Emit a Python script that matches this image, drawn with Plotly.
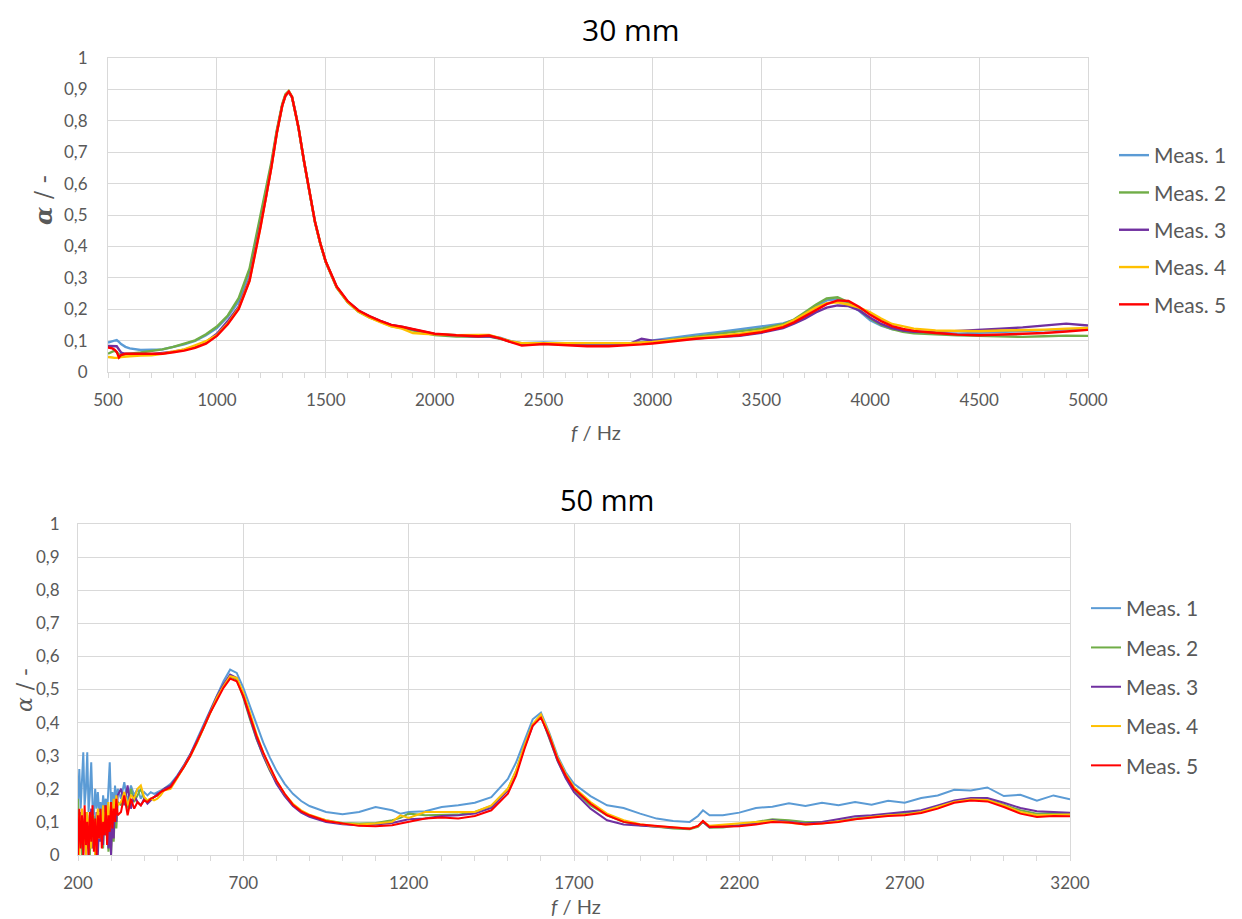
import plotly.graph_objects as go

# ---------------- data: 30 mm ----------------
F30 = [500, 510, 520, 530, 540, 550, 560, 580, 600, 650,
       700, 750, 800, 850, 900, 950, 1000, 1050, 1100, 1150,
       1200, 1225, 1250, 1275, 1300, 1315, 1330, 1345, 1360, 1375,
       1400, 1425, 1450, 1475, 1500, 1550, 1600, 1650, 1700, 1750,
       1800, 1850, 1900, 1950, 2000, 2100, 2200, 2250, 2300, 2350,
       2400, 2500, 2600, 2700, 2800, 2900, 2950, 3000, 3100, 3200,
       3300, 3400, 3500, 3600, 3650, 3700, 3750, 3800, 3850, 3900,
       3950, 4000, 4050, 4100, 4150, 4200, 4300, 4400, 4500, 4600,
       4700, 4800, 4900, 5000]

A30_M1 = [0.094, 0.096, 0.098, 0.100, 0.102, 0.096, 0.089, 0.080, 0.075, 0.070,
          0.070, 0.072, 0.080, 0.088, 0.099, 0.117, 0.140, 0.176, 0.225, 0.320,
          0.490, 0.570, 0.660, 0.765, 0.850, 0.882, 0.892, 0.875, 0.830, 0.776,
          0.670, 0.568, 0.478, 0.408, 0.350, 0.270, 0.224, 0.195, 0.177, 0.162,
          0.149, 0.144, 0.135, 0.127, 0.121, 0.117, 0.113, 0.115, 0.109, 0.098,
          0.092, 0.094, 0.091, 0.089, 0.089, 0.091, 0.096, 0.101, 0.111, 0.119,
          0.127, 0.135, 0.145, 0.155, 0.166, 0.186, 0.209, 0.228, 0.232, 0.217,
          0.194, 0.165, 0.148, 0.137, 0.131, 0.127, 0.123, 0.122, 0.125, 0.128,
          0.130, 0.132, 0.136, 0.138]
A30_M2 = [0.058, 0.062, 0.066, 0.068, 0.063, 0.057, 0.055, 0.056, 0.058, 0.062,
          0.066, 0.072, 0.080, 0.090, 0.101, 0.120, 0.145, 0.180, 0.235, 0.330,
          0.495, 0.575, 0.668, 0.770, 0.853, 0.885, 0.895, 0.877, 0.832, 0.778,
          0.671, 0.569, 0.479, 0.409, 0.350, 0.269, 0.222, 0.192, 0.174, 0.160,
          0.146, 0.140, 0.132, 0.124, 0.118, 0.113, 0.112, 0.113, 0.106, 0.096,
          0.088, 0.090, 0.088, 0.085, 0.086, 0.088, 0.092, 0.096, 0.105, 0.113,
          0.120, 0.128, 0.138, 0.152, 0.167, 0.190, 0.214, 0.234, 0.238, 0.222,
          0.198, 0.170, 0.150, 0.137, 0.128, 0.123, 0.119, 0.117, 0.115, 0.113,
          0.112, 0.114, 0.116, 0.115]
A30_M3 = [0.083, 0.083, 0.084, 0.084, 0.082, 0.072, 0.062, 0.058, 0.057, 0.056,
          0.057, 0.060, 0.065, 0.071, 0.081, 0.096, 0.122, 0.162, 0.208, 0.298,
          0.468, 0.556, 0.655, 0.762, 0.848, 0.880, 0.892, 0.875, 0.830, 0.776,
          0.671, 0.569, 0.479, 0.409, 0.351, 0.271, 0.225, 0.196, 0.177, 0.163,
          0.150, 0.143, 0.135, 0.127, 0.121, 0.116, 0.113, 0.114, 0.107, 0.096,
          0.090, 0.091, 0.089, 0.087, 0.087, 0.091, 0.106, 0.100, 0.102, 0.107,
          0.112, 0.115, 0.125, 0.140, 0.154, 0.170, 0.190, 0.205, 0.212, 0.210,
          0.196, 0.173, 0.153, 0.140, 0.132, 0.128, 0.127, 0.130, 0.135, 0.138,
          0.142, 0.147, 0.154, 0.148]
A30_M4 = [0.048, 0.046, 0.046, 0.045, 0.044, 0.045, 0.048, 0.050, 0.050, 0.052,
          0.053, 0.058, 0.065, 0.072, 0.085, 0.098, 0.118, 0.155, 0.203, 0.292,
          0.462, 0.552, 0.652, 0.761, 0.848, 0.881, 0.893, 0.876, 0.831, 0.777,
          0.671, 0.569, 0.479, 0.409, 0.351, 0.270, 0.223, 0.193, 0.174, 0.159,
          0.145, 0.138, 0.124, 0.122, 0.120, 0.117, 0.118, 0.118, 0.108, 0.097,
          0.092, 0.093, 0.092, 0.092, 0.091, 0.092, 0.094, 0.096, 0.103, 0.110,
          0.116, 0.122, 0.132, 0.148, 0.165, 0.185, 0.205, 0.219, 0.222, 0.215,
          0.205, 0.190, 0.170, 0.153, 0.145, 0.138, 0.132, 0.130, 0.130, 0.132,
          0.133, 0.135, 0.138, 0.140]
A30_M5 = [0.078, 0.077, 0.075, 0.071, 0.064, 0.046, 0.054, 0.058, 0.058, 0.057,
          0.056, 0.058, 0.063, 0.068, 0.077, 0.090, 0.115, 0.152, 0.200, 0.290,
          0.460, 0.550, 0.650, 0.760, 0.848, 0.880, 0.893, 0.876, 0.832, 0.778,
          0.672, 0.570, 0.480, 0.410, 0.352, 0.272, 0.226, 0.196, 0.178, 0.163,
          0.150, 0.144, 0.136, 0.128, 0.122, 0.117, 0.114, 0.116, 0.107, 0.095,
          0.084, 0.089, 0.086, 0.082, 0.082, 0.085, 0.088, 0.091, 0.099, 0.106,
          0.111, 0.117, 0.127, 0.143, 0.158, 0.178, 0.198, 0.216, 0.228, 0.226,
          0.207, 0.182, 0.162, 0.146, 0.137, 0.131, 0.124, 0.119, 0.117, 0.119,
          0.121, 0.124, 0.129, 0.134]

# ---------------- data: 50 mm ----------------
F50 = [200, 204, 208, 212, 216, 220, 224, 228, 232, 236,
       240, 244, 248, 252, 256, 260, 264, 268, 272, 276,
       280, 284, 288, 292, 296, 300, 304, 308, 312, 316, 320,
       330, 340, 350, 360, 370, 380, 390, 400, 410, 420, 430, 440, 450, 460,
       480, 500, 520, 540, 560, 580, 600, 620, 640, 660,
       680, 700, 720, 740, 760, 780, 800, 825, 850, 875,
       900, 950, 1000, 1050, 1100, 1150, 1175, 1200, 1250, 1300,
       1350, 1400, 1450, 1500, 1525, 1550, 1575, 1600, 1625, 1650,
       1675, 1700, 1750, 1800, 1850, 1900, 1950, 2000, 2050, 2075,
       2090, 2110, 2150, 2200, 2250, 2300, 2350, 2400, 2450, 2500,
       2550, 2600, 2650, 2700, 2750, 2800, 2850, 2900, 2950, 3000,
       3050, 3100, 3150, 3200]

A50_M1 = [0.16, 0.26, 0.14, 0.22, 0.31, 0.15, 0.20, 0.31, 0.13, 0.19,
          0.28, 0.15, 0.12, 0.20, 0.14, 0.19, 0.13, 0.16, 0.12, 0.18,
          0.14, 0.17, 0.13, 0.20, 0.28, 0.15, 0.19, 0.14, 0.21, 0.16, 0.20,
          0.17, 0.22, 0.16, 0.21, 0.18, 0.20, 0.17, 0.19, 0.18, 0.19, 0.185, 0.19, 0.195, 0.20,
          0.215, 0.240, 0.270, 0.305, 0.350, 0.395, 0.440, 0.485, 0.525, 0.560,
          0.550, 0.505, 0.450, 0.390, 0.340, 0.295, 0.255, 0.215, 0.185, 0.163,
          0.148, 0.130, 0.123, 0.130, 0.145, 0.135, 0.125, 0.130, 0.132, 0.145,
          0.150, 0.158, 0.175, 0.230, 0.280, 0.345, 0.410, 0.430, 0.370, 0.300,
          0.250, 0.215, 0.178, 0.150, 0.142, 0.125, 0.110, 0.103, 0.100, 0.118,
          0.135, 0.120, 0.120, 0.128, 0.142, 0.146, 0.156, 0.148, 0.158, 0.150,
          0.160, 0.152, 0.164, 0.158, 0.172, 0.180, 0.197, 0.195, 0.204, 0.178,
          0.182, 0.164, 0.180, 0.168]
A50_M2 = [0.17, 0.05, 0.12, 0.00, 0.10, 0.03, 0.13, 0.02, 0.08, 0.00,
          0.11, 0.04, 0.12, 0.00, 0.09, 0.03, 0.12, 0.05, 0.10, 0.02,
          0.13, 0.06, 0.11, 0.01, 0.09, 0.00, 0.10, 0.04, 0.14, 0.08, 0.16,
          0.15, 0.19, 0.14, 0.20, 0.16, 0.18, 0.20, 0.17, 0.165, 0.17, 0.175, 0.18, 0.19, 0.20,
          0.210, 0.235, 0.265, 0.300, 0.340, 0.385, 0.435, 0.475, 0.510, 0.540,
          0.530, 0.475, 0.410, 0.350, 0.300, 0.255, 0.220, 0.180, 0.150, 0.130,
          0.118, 0.105, 0.097, 0.095, 0.097, 0.105, 0.112, 0.125, 0.120, 0.120,
          0.122, 0.130, 0.148, 0.200, 0.255, 0.330, 0.395, 0.420, 0.355, 0.285,
          0.235, 0.195, 0.150, 0.120, 0.100, 0.090, 0.085, 0.080, 0.078, 0.085,
          0.100, 0.082, 0.083, 0.090, 0.100, 0.108, 0.105, 0.100, 0.100, 0.103,
          0.110, 0.115, 0.120, 0.125, 0.132, 0.145, 0.162, 0.170, 0.168, 0.152,
          0.135, 0.125, 0.127, 0.125]
A50_M3 = [0.10, 0.02, 0.13, 0.05, 0.00, 0.11, 0.03, 0.12, 0.00, 0.08,
          0.14, 0.02, 0.10, 0.05, 0.13, 0.00, 0.09, 0.04, 0.12, 0.03,
          0.15, 0.06, 0.10, 0.02, 0.08, 0.00, 0.12, 0.05, 0.16, 0.10, 0.18,
          0.20, 0.15, 0.21, 0.14, 0.18, 0.16, 0.15, 0.17, 0.155, 0.165, 0.175, 0.185, 0.19, 0.20,
          0.210, 0.238, 0.270, 0.305, 0.345, 0.390, 0.440, 0.480, 0.515, 0.545,
          0.535, 0.480, 0.415, 0.352, 0.300, 0.255, 0.215, 0.178, 0.148, 0.128,
          0.115, 0.100, 0.093, 0.090, 0.092, 0.097, 0.103, 0.108, 0.110, 0.118,
          0.120, 0.125, 0.142, 0.195, 0.250, 0.325, 0.390, 0.420, 0.355, 0.285,
          0.232, 0.190, 0.140, 0.105, 0.092, 0.088, 0.085, 0.082, 0.080, 0.087,
          0.100, 0.084, 0.086, 0.090, 0.097, 0.105, 0.100, 0.095, 0.100, 0.108,
          0.117, 0.120, 0.125, 0.128, 0.135, 0.150, 0.165, 0.172, 0.172, 0.158,
          0.142, 0.132, 0.130, 0.128]
A50_M4 = [0.12, 0.00, 0.09, 0.14, 0.03, 0.10, 0.00, 0.13, 0.06, 0.11,
          0.02, 0.12, 0.08, 0.00, 0.10, 0.14, 0.05, 0.12, 0.09, 0.15,
          0.07, 0.13, 0.11, 0.16, 0.08, 0.14, 0.12, 0.17, 0.13, 0.18, 0.15,
          0.16, 0.19, 0.15, 0.18, 0.17, 0.20, 0.21, 0.175, 0.165, 0.17, 0.165, 0.17, 0.18, 0.195,
          0.200, 0.232, 0.265, 0.300, 0.340, 0.385, 0.432, 0.475, 0.510, 0.540,
          0.535, 0.490, 0.430, 0.365, 0.310, 0.262, 0.225, 0.185, 0.155, 0.135,
          0.122, 0.105, 0.095, 0.092, 0.095, 0.100, 0.120, 0.112, 0.130, 0.130,
          0.128, 0.130, 0.150, 0.200, 0.255, 0.330, 0.395, 0.425, 0.365, 0.295,
          0.245, 0.205, 0.160, 0.125, 0.105, 0.093, 0.087, 0.083, 0.080, 0.087,
          0.102, 0.088, 0.092, 0.095, 0.100, 0.103, 0.097, 0.092, 0.095, 0.102,
          0.110, 0.115, 0.120, 0.122, 0.130, 0.145, 0.160, 0.168, 0.166, 0.150,
          0.130, 0.120, 0.122, 0.122]
A50_M5 = [0.00, 0.14, 0.02, 0.12, 0.00, 0.15, 0.03, 0.10, 0.00, 0.13,
          0.04, 0.15, 0.01, 0.11, 0.00, 0.12, 0.05, 0.14, 0.02, 0.10,
          0.06, 0.15, 0.03, 0.12, 0.07, 0.16, 0.08, 0.14, 0.10, 0.17, 0.12,
          0.13, 0.18, 0.12, 0.17, 0.14, 0.16, 0.15, 0.165, 0.16, 0.17, 0.175, 0.18, 0.19, 0.195,
          0.205, 0.235, 0.265, 0.300, 0.340, 0.385, 0.430, 0.470, 0.505, 0.533,
          0.525, 0.480, 0.420, 0.360, 0.310, 0.265, 0.225, 0.185, 0.152, 0.132,
          0.120, 0.103, 0.095, 0.088, 0.087, 0.090, 0.095, 0.100, 0.110, 0.113,
          0.110, 0.118, 0.135, 0.185, 0.240, 0.320, 0.390, 0.415, 0.360, 0.290,
          0.240, 0.200, 0.155, 0.120, 0.100, 0.092, 0.087, 0.082, 0.079, 0.088,
          0.103, 0.085, 0.085, 0.087, 0.092, 0.100, 0.098, 0.092, 0.095, 0.100,
          0.108, 0.113, 0.118, 0.120, 0.127, 0.140, 0.158, 0.165, 0.162, 0.145,
          0.125, 0.115, 0.118, 0.117]

SERIES_NAMES = ["Meas. 1", "Meas. 2", "Meas. 3", "Meas. 4", "Meas. 5"]
SERIES_COLORS = ["#5B9BD5", "#70AD47", "#7030A0", "#FFC000", "#FF0000"]

X30_TICKS = [500, 1000, 1500, 2000, 2500, 3000, 3500, 4000, 4500, 5000]
X30_LABELS = ["500", "1000", "1500", "2000", "2500", "3000", "3500", "4000", "4500", "5000"]
X50_TICKS = [200, 700, 1200, 1700, 2200, 2700, 3200]
X50_LABELS = ["200", "700", "1200", "1700", "2200", "2700", "3200"]
Y_TICKS = [0, 0.1, 0.2, 0.3, 0.4, 0.5, 0.6, 0.7, 0.8, 0.9, 1]
Y_LABELS = ["0", "0,1", "0,2", "0,3", "0,4", "0,5", "0,6", "0,7", "0,8", "0,9", "1"]

TOP_TITLE = "30 mm"
BOTTOM_TITLE = "50 mm"

# ---------------- figure ----------------
W, H = 1242, 919
OFF = 8  # page body margin of the browser
FONT = "Lato"
GREY = "#595959"
GRID = "#d9d9d9"

fig = go.Figure()

top_data = [A30_M1, A30_M2, A30_M3, A30_M4, A30_M5]
bot_data = [A50_M1, A50_M2, A50_M3, A50_M4, A50_M5]

for i, (name, col, ys) in enumerate(zip(SERIES_NAMES, SERIES_COLORS, top_data)):
    fig.add_trace(go.Scatter(x=F30, y=ys, mode="lines", name=name,
                             line=dict(color=col, width=2.4),
                             xaxis="x", yaxis="y", legend="legend",
                             legendgroup="t%d" % i))
for i, (name, col, ys) in enumerate(zip(SERIES_NAMES, SERIES_COLORS, bot_data)):
    fig.add_trace(go.Scatter(x=F50, y=ys, mode="lines", name=name,
                             line=dict(color=col, width=2),
                             xaxis="x2", yaxis="y2", legend="legend2",
                             legendgroup="b%d" % i))

def px_x(p):
    return (p - OFF) / W

def px_y(p):
    return 1 - (p - OFF) / H

tickfont = dict(family=FONT, size=17, color=GREY)

def xaxis(domain, anchor, rng, tv, tt):
    return dict(domain=domain, anchor=anchor, range=rng, automargin=False,
                tickmode="array", tickvals=tv, ticktext=tt,
                showgrid=True, gridcolor=GRID, gridwidth=1,
                showline=True, linecolor=GRID, linewidth=1, mirror=True,
                ticks="outside", ticklen=5, tickcolor=GRID,
                minor=dict(tickmode="linear", tick0=0, dtick=100,
                           ticks="outside", ticklen=5, tickcolor=GRID,
                           showgrid=False),
                tickfont=tickfont, ticklabelstandoff=8, zeroline=False,
                fixedrange=True)

def yaxis(domain, anchor, standoff):
    return dict(domain=domain, anchor=anchor, range=[0, 1], automargin=False,
                tickmode="array", tickvals=Y_TICKS, ticktext=Y_LABELS,
                showgrid=True, gridcolor=GRID, gridwidth=1,
                showline=True, linecolor=GRID, linewidth=1, mirror=True,
                ticks="", tickfont=tickfont, ticklabelstandoff=standoff,
                zeroline=False, fixedrange=True)

legfont = dict(family=FONT, size=21, color=GREY)

fig.update_layout(
    width=W, height=H,
    margin=dict(l=0, r=0, t=0, b=0, autoexpand=False),
    paper_bgcolor="white", plot_bgcolor="white",
    xaxis=xaxis([px_x(108), px_x(1088)], "y", [500, 5000], X30_TICKS, X30_LABELS),
    yaxis=yaxis([px_y(372), px_y(58)], "x", 16),
    xaxis2=xaxis([px_x(78), px_x(1070)], "y2", [200, 3200], X50_TICKS, X50_LABELS),
    yaxis2=yaxis([px_y(855), px_y(524)], "x2", 14),
    legend=dict(x=px_x(1114), y=px_y(135), xanchor="left", yanchor="top",
                font=legfont, bgcolor="rgba(0,0,0,0)", tracegroupgap=7,
                itemwidth=30),
    legend2=dict(x=px_x(1086), y=px_y(588), xanchor="left", yanchor="top",
                 font=legfont, bgcolor="rgba(0,0,0,0)", tracegroupgap=9,
                 itemwidth=30),
    showlegend=True,
)

annotations = [
    dict(text=TOP_TITLE, x=px_x(631), y=1, xref="paper", yref="paper",
         showarrow=False, font=dict(family="Open Sans", size=30, color="black"),
         xanchor="center", yanchor="top", borderpad=0),
    dict(text=BOTTOM_TITLE, x=px_x(607), y=px_y(499), xref="paper", yref="paper",
         showarrow=False, font=dict(family="Open Sans", size=29, color="black"),
         xanchor="center", yanchor="middle"),
    dict(text="<i>f</i> / Hz", x=px_x(596), y=px_y(432), xref="paper", yref="paper",
         showarrow=False, font=dict(family=FONT, size=20, color=GREY),
         xanchor="center", yanchor="middle"),
    dict(text="<i>f</i> / Hz", x=px_x(576), y=px_y(906), xref="paper", yref="paper",
         showarrow=False, font=dict(family=FONT, size=20, color=GREY),
         xanchor="center", yanchor="middle"),
    dict(text="<b><i>α</i></b> / -", x=px_x(43), y=px_y(200), xref="paper", yref="paper",
         showarrow=False, textangle=-90, font=dict(family="DejaVu Serif", size=24, color=GREY),
         xanchor="center", yanchor="middle"),
    dict(text="<i>α</i> / -", x=px_x(24), y=px_y(690), xref="paper", yref="paper",
         showarrow=False, textangle=-90, font=dict(family="DejaVu Serif", size=22, color=GREY),
         xanchor="center", yanchor="middle"),
]
fig.update_layout(annotations=annotations)

fig.write_html("out.html")
